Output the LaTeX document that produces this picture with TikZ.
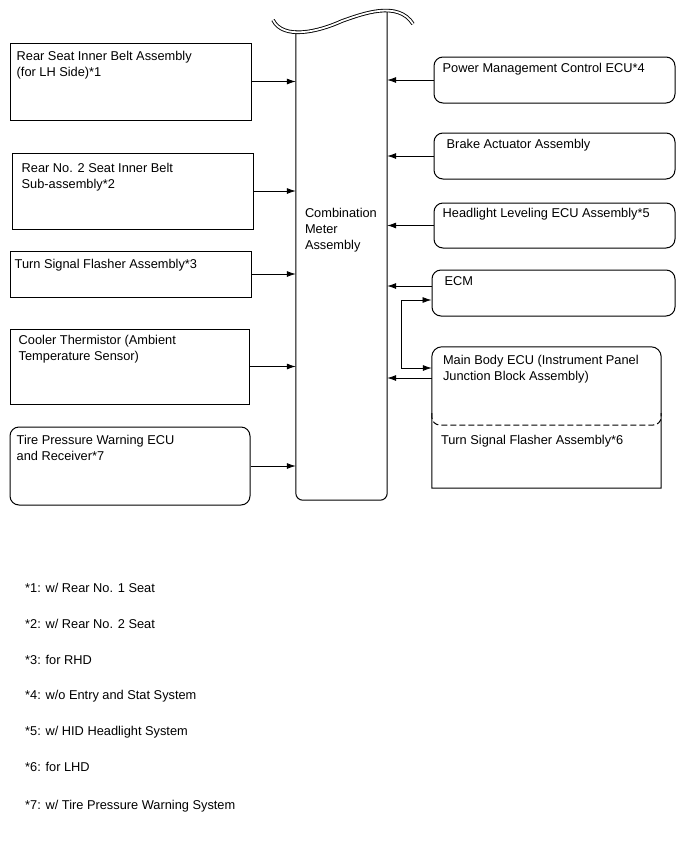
\documentclass[tikz,border=0pt]{standalone}
\usepackage{fontspec}
\setmainfont{Liberation Sans}
\usetikzlibrary{arrows.meta,positioning}
\newcommand{\dfont}{\fontsize{12.8}{16}\selectfont}

\begin{document}
\begin{tikzpicture}[x=1pt,y=-1pt,
  unit/.style={draw,line width=1pt,inner sep=0pt},
  sqbox/.style={unit,rectangle},
  rdbox/.style={unit,rounded corners=9pt},
  txt/.style={inner sep=0pt,anchor=north west,align=left,font=\dfont},
  flow/.style={-{Latex[length=9pt,width=6pt]},line width=0.8pt},
  link/.style={{Latex[length=9pt,width=6pt]}-{Latex[length=9pt,width=6pt]},line width=0.8pt}]
\useasboundingbox (0,0) rectangle (688,852);
% combination meter
\node[minimum width=91pt,minimum height=470pt,inner sep=0pt] (meter) at (341.5,265) {};
\draw[line width=1pt,rounded corners=7pt] (meter.west |- 0,30) -- (meter.south west) -- (meter.south east) -- (meter.east |- 0,11);
\draw[line width=0.9pt,double,double distance=1.8pt] (273,20) .. controls (283,40) and (318,32) .. (342,21) .. controls (362,14) and (398,0) .. (413,24);
\node[txt,below right=-57pt and 9pt of meter.west] (meter-t) {Combination\\Meter\\Assembly};
% left side
\node[sqbox,minimum width=241pt,minimum height=77pt] (rsb) at (130.5,81.5) {};
\node[txt,below right=9pt and 7pt of rsb.north west] (rsb-t) {Rear Seat Inner Belt Assembly\\(for LH Side)*1};
\node[sqbox,minimum width=241pt,minimum height=76pt] (rn2) at (132.5,191) {};
\node[txt,below right=11pt and 10pt of rn2.north west] (rn2-t) {Rear No. 2 Seat Inner Belt\\Sub-assembly*2};
\node[sqbox,minimum width=241pt,minimum height=46pt] (tsf) at (130.5,274) {};
\node[txt,below right=9pt and 5pt of tsf.north west] (tsf-t) {Turn Signal Flasher Assembly*3};
\node[sqbox,minimum width=239pt,minimum height=75pt] (cts) at (129.5,366.5) {};
\node[txt,below right=7pt and 9pt of cts.north west] (cts-t) {Cooler Thermistor (Ambient\\Temperature Sensor)};
\node[rdbox,minimum width=240pt,minimum height=78pt] (tpw) at (130,466) {};
\node[txt,below right=9pt and 7pt of tpw.north west] (tpw-t) {Tire Pressure Warning ECU\\and Receiver*7};
% right side
\node[rdbox,minimum width=241pt,minimum height=46pt] (pmc) at (554.5,80) {};
\node[txt,below right=7pt and 9pt of pmc.north west] (pmc-t) {Power Management Control ECU*4};
\node[rdbox,minimum width=241pt,minimum height=46pt] (bka) at (554.5,156) {};
\node[txt,below right=7pt and 13pt of bka.north west] (bka-t) {Brake Actuator Assembly};
\node[rdbox,minimum width=241pt,minimum height=45pt] (hle) at (554.5,225.5) {};
\node[txt,below right=6pt and 9pt of hle.north west] (hle-t) {Headlight Leveling ECU Assembly*5};
\node[rdbox,minimum width=243pt,minimum height=46pt] (ecm) at (553.5,293) {};
\node[txt,below right=7pt and 13pt of ecm.north west] (ecm-t) {ECM};
\node[minimum width=229pt,minimum height=141pt,inner sep=0pt] (mbecu) at (546.5,417.5) {};
\draw[line width=1pt] (mbecu.south west) [rounded corners=10pt] -- (mbecu.north west) -- (mbecu.north east) [sharp corners] -- (mbecu.south east) -- cycle;
\draw[line width=1pt,dashed,dash pattern=on 6pt off 3pt,rounded corners=8pt] (mbecu.west |- 0,413) -- (mbecu.west |- 0,425) -- (mbecu.east |- 0,425) -- (mbecu.east |- 0,413);
\node[txt,below right=8pt and 11pt of mbecu.north west] (mbecu-t) {Main Body ECU (Instrument Panel\\Junction Block Assembly)};
\node[txt,below right=88pt and 9pt of mbecu.north west] (tsf6-t) {Turn Signal Flasher Assembly*6};
% signals
\draw[flow] (rsb.east) -- (rsb.east -| meter.west);
\draw[flow] (rn2.east) -- (rn2.east -| meter.west);
\draw[flow] (tsf.east) -- (tsf.east -| meter.west);
\draw[flow] (cts.east) -- (cts.east -| meter.west);
\draw[flow] (tpw.east) -- (tpw.east -| meter.west);
\draw[flow] (pmc.west) -- (pmc.west -| meter.east);
\draw[flow] (bka.west) -- (bka.west -| meter.east);
\draw[flow] (hle.west) -- (hle.west -| meter.east);
\draw[flow] ([yshift=7pt]ecm.west) -- ([yshift=7pt]ecm.west -| meter.east);
\draw[flow] ([yshift=39.5pt]mbecu.west) -- ([yshift=39.5pt]mbecu.west -| meter.east);
\draw[link] ([yshift=-7pt]ecm.west) -- ++(-30,0) |- ([yshift=49.5pt]mbecu.west);
% notes
\node[txt] (fn1) at (25,583) {*1: w/ Rear No. 1 Seat};
\node[txt] (fn2) at (25,619) {*2: w/ Rear No. 2 Seat};
\node[txt] (fn3) at (25,655) {*3: for RHD};
\node[txt] (fn4) at (25,690) {*4: w/o Entry and Stat System};
\node[txt] (fn5) at (25,726) {*5: w/ HID Headlight System};
\node[txt] (fn6) at (25,762) {*6: for LHD};
\node[txt] (fn7) at (25,800) {*7: w/ Tire Pressure Warning System};
\end{tikzpicture}
\end{document}
